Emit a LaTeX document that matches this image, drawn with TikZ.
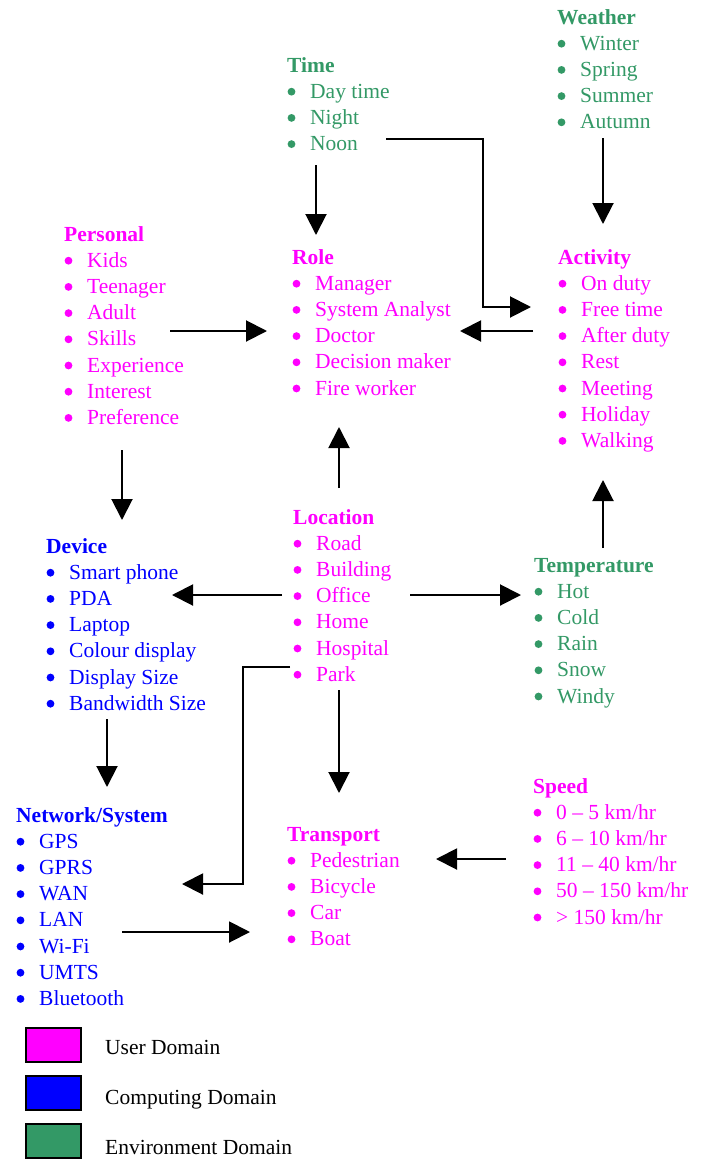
\documentclass[tikz,border=0pt]{standalone}
\usepackage{fontspec}
\setmainfont{Liberation Serif}
\usetikzlibrary{arrows.meta}
\definecolor{umag}{RGB}{255,0,255}
\definecolor{cblue}{RGB}{0,0,255}
\definecolor{egreen}{RGB}{51,153,102}
\tikzset{
  hdr/.style={anchor=base west,inner sep=0pt,font=\fontsize{21.5}{26}\selectfont\bfseries},
  itmnode/.style={anchor=base west,inner sep=0pt,font=\fontsize{21.5}{26}\selectfont},
  arr/.style={line width=2pt,-{Triangle[length=21pt,width=21pt]}},
  legbox/.style={draw=black,line width=2.2pt,minimum width=55pt,minimum height=34pt,inner sep=0pt},
}
\newcommand\mkblock[6]{%
  \node[hdr,text=#4] (#1) at (#2,#3) {#5};
  \foreach \itmtxt [count=\ii] in {#6}{%
    \fill[#4] ({#2+4.5},{#3+26.2*\ii-6.5}) circle (3.9pt);
    \node[itmnode,text=#4] (#1-\ii) at ({#2+23},{#3+26.2*\ii}) {\itmtxt};
  }%
}
\begin{document}
\begin{tikzpicture}[x=1pt,y=-1pt]
\useasboundingbox[fill=white] (0,0) rectangle (704,1159);
\mkblock{weather}{557}{24}{egreen}{Weather}{Winter,Spring,Summer,Autumn}
\mkblock{time}{287}{72}{egreen}{Time}{Day time,Night,Noon}
\mkblock{personal}{64}{241}{umag}{Personal}{Kids,Teenager,Adult,Skills,Experience,Interest,Preference}
\mkblock{role}{292}{264}{umag}{Role}{Manager,System Analyst,Doctor,Decision maker,Fire worker}
\mkblock{activity}{558}{264}{umag}{Activity}{On duty,Free time,After duty,Rest,Meeting,Holiday,Walking}
\mkblock{location}{293}{524}{umag}{Location}{Road,Building,Office,Home,Hospital,Park}
\mkblock{device}{46}{553}{cblue}{Device}{Smart phone,PDA,Laptop,Colour display,Display Size,Bandwidth Size}
\mkblock{temp}{534}{572}{egreen}{Temperature}{Hot,Cold,Rain,Snow,Windy}
\mkblock{speed}{533}{793}{umag}{Speed}{0 – 5 km/hr,6 – 10 km/hr,11 – 40 km/hr,50 – 150 km/hr,> 150 km/hr}
\mkblock{network}{16}{822}{cblue}{Network/System}{GPS,GPRS,WAN,LAN,Wi-Fi,UMTS,Bluetooth}
\mkblock{transport}{287}{841}{umag}{Transport}{Pedestrian,Bicycle,Car,Boat}

% arrow end coordinates
\coordinate (tr-a) at (316,165);   \coordinate (tr-b) at (316,235);
\coordinate (na-a) at (386,139);   \coordinate (na-b) at (483,139);
\coordinate (na-c) at (483,307);   \coordinate (na-d) at (531,307);
\coordinate (wa-a) at (603,138);   \coordinate (wa-b) at (603,224);
\coordinate (pr-a) at (170,331);   \coordinate (pr-b) at (267,331);
\coordinate (ar-a) at (533,331);   \coordinate (ar-b) at (460,331);
\coordinate (pd-a) at (122,450);   \coordinate (pd-b) at (122,520);
\coordinate (lr-a) at (339,488);   \coordinate (lr-b) at (339,427);
\coordinate (ld-a) at (282,595);   \coordinate (ld-b) at (172,595);
\coordinate (lt-a) at (410,595);   \coordinate (lt-b) at (521,595);
\coordinate (ta-a) at (603,548);   \coordinate (ta-b) at (603,480);
\coordinate (dn-a) at (107,719);   \coordinate (dn-b) at (107,787);
\coordinate (pn-a) at (290,667);   \coordinate (pn-b) at (243,667);
\coordinate (pn-c) at (243,884);   \coordinate (pn-d) at (182,884);
\coordinate (lx-a) at (339,690);   \coordinate (lx-b) at (339,793);
\coordinate (sx-a) at (506,859);   \coordinate (sx-b) at (436,859);
\coordinate (nx-a) at (122,932);   \coordinate (nx-b) at (250,932);

\draw[arr] (tr-a) -- (tr-b);
\draw[arr] (na-a) -- (na-b) -- (na-c) -- (na-d);
\draw[arr] (wa-a) -- (wa-b);
\draw[arr] (pr-a) -- (pr-b);
\draw[arr] (ar-a) -- (ar-b);
\draw[arr] (pd-a) -- (pd-b);
\draw[arr] (lr-a) -- (lr-b);
\draw[arr] (ld-a) -- (ld-b);
\draw[arr] (lt-a) -- (lt-b);
\draw[arr] (ta-a) -- (ta-b);
\draw[arr] (dn-a) -- (dn-b);
\draw[arr] (pn-a) -- (pn-b) -- (pn-c) -- (pn-d);
\draw[arr] (lx-a) -- (lx-b);
\draw[arr] (sx-a) -- (sx-b);
\draw[arr] (nx-a) -- (nx-b);

% legend
\node[legbox,fill=umag] (lg-u) at (53.5,1045) {};
\node[legbox,fill=cblue] (lg-c) at (53.5,1093) {};
\node[legbox,fill=egreen] (lg-e) at (53.5,1141) {};
\node[itmnode,text=black] (lt-u) at (105,1054) {User Domain};
\node[itmnode,text=black] (lt-c) at (105,1104) {Computing Domain};
\node[itmnode,text=black] (lt-e) at (105,1154) {Environment Domain};
\end{tikzpicture}
\end{document}
